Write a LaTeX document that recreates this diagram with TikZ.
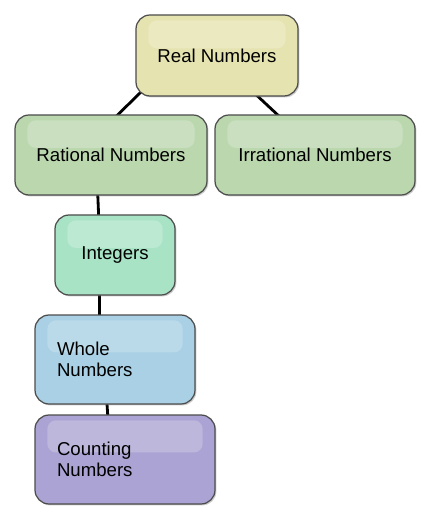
\documentclass[tikz,border=0pt]{standalone}
\usepackage{fontspec}
\setmainfont{Liberation Sans}
\usetikzlibrary{shadows,backgrounds}
\definecolor{realc}{RGB}{229,227,175}
\definecolor{ratc}{RGB}{186,215,174}
\definecolor{intc}{RGB}{168,227,198}
\definecolor{wholec}{RGB}{169,208,228}
\definecolor{countc}{RGB}{171,163,211}
\begin{document}
\begin{tikzpicture}
[>=stealth,
 numbox/.style = {draw=black!70, line width=0.7pt, rounded corners=8pt, inner sep=0pt,
   font=\fontsize{10.6}{12.2}\selectfont,
   drop shadow={opacity=0.4, shadow xshift=0.8pt, shadow yshift=-0.8pt},
   path picture={\fill[white, opacity=0.22, rounded corners=5pt]
     ([xshift=7pt,yshift=-3pt]path picture bounding box.north west) rectangle
     ([xshift=-7pt,yshift=4pt]path picture bounding box.east);}},
 link/.style = {line width=1.6pt, shorten <=-6pt, shorten >=-6pt},]
\useasboundingbox (0,0) rectangle (8.8,-10.4);
\node (real) at (4.34,-1.11)[numbox, fill=realc, minimum width=3.24cm, minimum height=1.62cm] {Real Numbers};
\node (rat) at (2.22,-3.10)[numbox, fill=ratc, minimum width=3.84cm, minimum height=1.60cm] {Rational Numbers};
\node (irr) at (6.30,-3.10)[numbox, fill=ratc, minimum width=4.00cm, minimum height=1.60cm] {Irrational Numbers};
\node (int) at (2.30,-5.10)[numbox, fill=intc, minimum width=2.40cm, minimum height=1.60cm] {Integers};
\node (whole) at (2.30,-7.19)[numbox, fill=wholec, minimum width=3.20cm, minimum height=1.78cm,
  text width=2.32cm, align=left] {Whole\\Numbers};
\node (count) at (2.50,-9.19)[numbox, fill=countc, minimum width=3.60cm, minimum height=1.78cm,
  text width=2.72cm, align=left] {Counting\\Numbers};

\begin{scope}[on background layer]
\draw[link] (real.207) -- (rat.80);
\draw[link] (real.315) -- (irr.133);
\draw[link] (rat.252) -- (int.112);
\draw[link] (int.249) -- (whole.109);
\draw[link] (whole.260) -- (count.111);
\end{scope}

\end{tikzpicture}
\end{document}
